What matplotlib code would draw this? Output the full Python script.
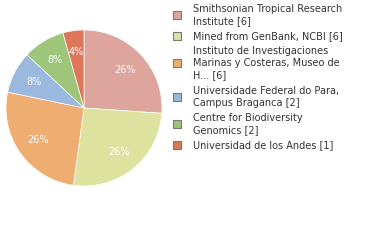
import matplotlib
matplotlib.use("Agg")
import matplotlib.pyplot as plt
from matplotlib.patches import Rectangle

labels = [
    "Smithsonian Tropical Research\nInstitute [6]",
    "Mined from GenBank, NCBI [6]",
    "Instituto de Investigaciones\nMarinas y Costeras, Museo de\nH... [6]",
    "Universidade Federal do Para,\nCampus Braganca [2]",
    "Centre for Biodiversity\nGenomics [2]",
    "Universidad de los Andes [1]",
]
values = [6, 6, 6, 2, 2, 1]
colors = ["#dea59c", "#dde39f", "#eead71", "#9bb9de", "#9dc67b", "#de7659"]

W, H = 380, 240
fig = plt.figure(figsize=(W / 100, H / 100), dpi=100)
cx, cy, r = 84, 108, 78
ax = fig.add_axes([(cx - r) / W, (H - cy - r) / H, 2 * r / W, 2 * r / H])
wedges, texts, autotexts = ax.pie(
    values, colors=colors, startangle=90, counterclock=False,
    autopct=lambda p: f"{int(p)}%", pctdistance=0.72,
    wedgeprops=dict(edgecolor="white", linewidth=0.5),
    textprops=dict(color="white", fontsize=7),
)
ax.set_xlim(-1, 1)
ax.set_ylim(-1, 1)
ax.set_aspect("equal")

# legend
line_h = 12
y = 9
sq = 8
for lab, col in zip(labels, colors):
    n = lab.count("\n") + 1
    center = y + (n - 1) * line_h / 2
    fig.patches.append(Rectangle(((177 - sq / 2) / W, (H - center - sq / 2) / H), sq / W, sq / H,
                                 transform=fig.transFigure, facecolor=col,
                                 edgecolor="#777777", linewidth=0.8))
    fig.text(193 / W, (H - center) / H, lab, fontsize=7, va="center", ha="left",
             color="#333333", linespacing=1.25)
    y += n * line_h + 3.2

fig.savefig("out.png", dpi=100)
